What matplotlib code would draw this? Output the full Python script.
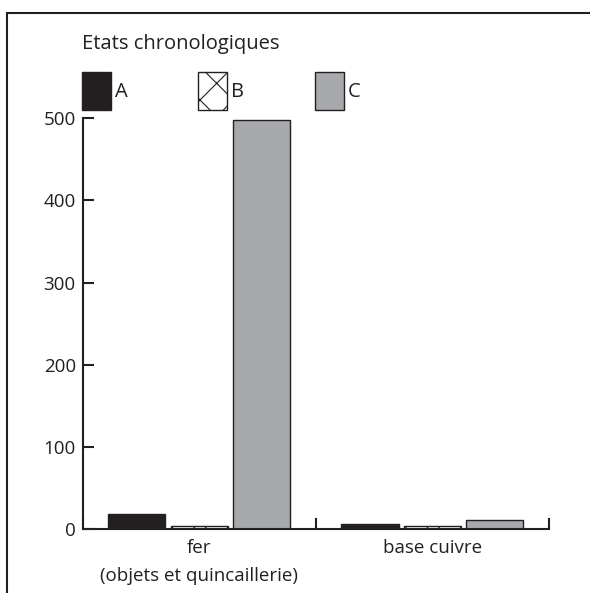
import numpy as np
import matplotlib.pyplot as plt
from matplotlib.patches import Rectangle

plt.rcParams['font.family'] = ['Open Sans', 'DejaVu Sans']
plt.rcParams['hatch.linewidth'] = 0.8

# data
categories = ["fer\n(objets et quincaillerie)", "base cuivre"]
states = ["A", "B", "C"]
values_A = [18, 6]
values_B = [4, 4]
values_C = [498, 11]
y_ticks = [0, 100, 200, 300, 400, 500]

ink = "#231f20"
colors = {"A": ink, "B": "white", "C": "#a7a9ac"}
hatches = {"A": None, "B": "x", "C": None}

W, H = 590, 593
fig = plt.figure(figsize=(W / 100, H / 100), dpi=100)
ax = fig.add_axes([82.7 / W, 1 - 529 / H, (549 - 82.7) / W, (529 - 118.3) / H])

x = np.arange(len(categories)) + 0.5
width = 0.245
step = 0.268
series = [values_A, values_B, values_C]
handles = []
for i, (name, vals) in enumerate(zip(states, series)):
    b = ax.bar(x + (i - 1) * step, vals, width, color=colors[name],
               edgecolor=ink, linewidth=1.0, hatch=hatches[name], label=name)
    handles.append(b)

ax.set_xlim(0, 2)
ax.set_ylim(0, 500)
ax.set_yticks(y_ticks)
ax.set_xticks([0, 1, 2])
ax.set_xticklabels([])
ax.set_xticks(x, minor=True)
ax.set_xticklabels(categories, minor=True, linespacing=1.75)

for side in ["top", "right"]:
    ax.spines[side].set_visible(False)
for side in ["left", "bottom"]:
    ax.spines[side].set_linewidth(1.5)
    ax.spines[side].set_color(ink)

ax.tick_params(axis="both", which="major", direction="in", length=8, width=1.5,
               color=ink, labelsize=13.5, labelcolor=ink, pad=5)
ax.tick_params(axis="x", which="minor", length=0, pad=7, labelsize=13.5, labelcolor=ink)

# legend: patch box 29 x 38 px
fs = 14.5
fpx = fs * 100 / 72
hh = (38 / fpx - 0.245) / 0.65
leg = ax.legend(handles=handles, labels=states, ncol=3, title="Etats chronologiques",
                loc="lower left", bbox_to_anchor=(82 / W, 1 - 110 / H),
                bbox_transform=fig.transFigure, frameon=False,
                fontsize=fs, title_fontsize=fs, alignment="left",
                handlelength=29 / fpx, handleheight=hh,
                handletextpad=0.2, columnspacing=3.5, labelspacing=0.9,
                borderpad=0, borderaxespad=0)
for t in leg.get_texts():
    t.set_color(ink)
leg.get_title().set_color(ink)

# outer frame of the figure panel
fig.patches.append(Rectangle((7.3 / W, -0.1), 1.2, 1 - 12.7 / H + 0.1,
                             transform=fig.transFigure, fill=False,
                             edgecolor=ink, linewidth=1.5))

fig.savefig("out.png", dpi=100)
